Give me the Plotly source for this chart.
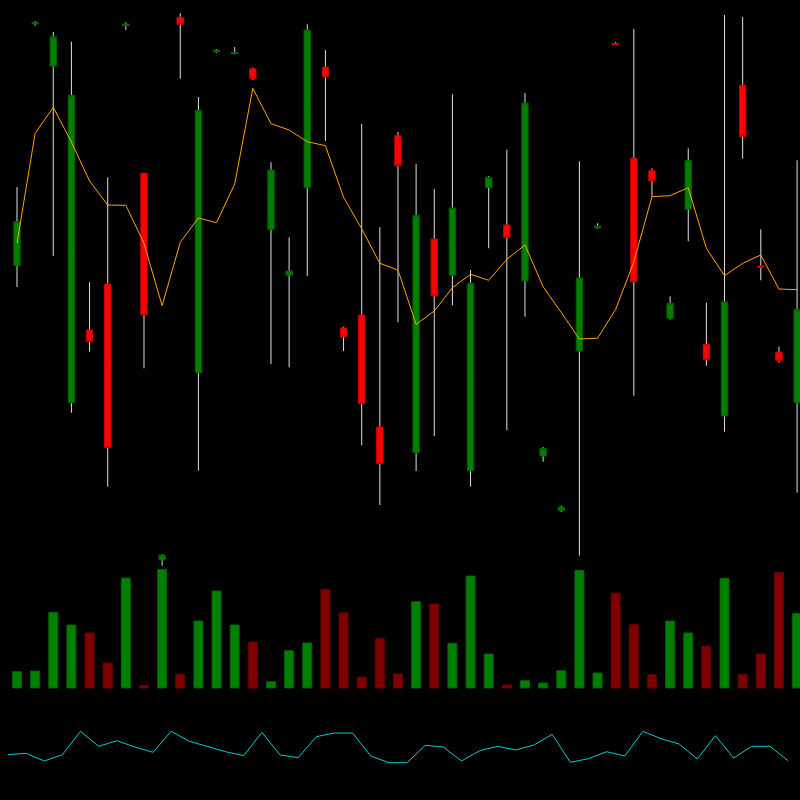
import plotly.graph_objects as go

idx = list(range(44))

open_ = [53.43, 77.62, 73.40, 39.73, 47.00, 51.60, 77.43, 62.67, 24.00, 78.27,
         42.73, 74.80, 74.67, 73.13, 57.07, 52.47, 61.23, 73.27, 47.20, 48.50,
         37.30, 66.43, 34.73, 56.10, 52.47, 32.93, 61.23, 57.50, 51.93, 34.40,
         28.93, 44.90, 57.20, 75.65, 64.17, 62.93, 48.17, 59.07, 45.57, 38.40,
         71.47, 53.40, 44.80, 39.73]
high = [61.30, 77.87, 76.80, 75.83, 51.80, 62.27, 77.77, 62.67, 24.60, 78.67,
        70.30, 75.10, 75.30, 73.23, 63.77, 56.27, 77.57, 75.00, 47.33, 67.60,
        57.27, 66.80, 63.60, 61.10, 70.57, 53.00, 62.40, 65.03, 70.70, 35.30,
        29.43, 63.87, 57.67, 75.80, 77.10, 63.17, 50.37, 65.17, 49.73, 78.50,
        78.30, 57.07, 45.33, 63.97]
low = [51.30, 77.43, 54.40, 38.73, 44.83, 31.33, 77.00, 43.17, 23.43, 72.13,
       32.93, 74.73, 74.57, 72.00, 43.60, 43.27, 52.40, 65.90, 44.90, 35.47,
       29.50, 47.77, 32.90, 36.37, 49.47, 31.33, 55.17, 36.97, 48.33, 33.83,
       28.80, 24.43, 57.13, 75.50, 40.43, 60.33, 48.03, 55.87, 43.43, 36.83,
       64.13, 51.97, 43.73, 30.73]
close = [57.83, 77.70, 76.33, 70.47, 45.83, 35.23, 77.60, 48.50, 24.50, 77.57,
         68.97, 75.00, 74.77, 72.13, 63.00, 52.90, 77.00, 72.30, 46.30, 39.63,
         33.63, 63.43, 58.47, 50.40, 59.20, 51.67, 62.27, 56.27, 69.70, 35.17,
         29.30, 52.20, 57.40, 75.55, 51.83, 61.90, 49.67, 63.97, 44.07, 49.83,
         66.37, 53.25, 43.93, 49.07]

moving_avg = [55.67, 66.67, 69.27, 65.80, 61.90, 59.50, 59.47, 55.67, 49.43, 55.77,
              58.20, 57.73, 61.60, 71.17, 67.63, 67.00, 65.83, 65.43, 60.27, 57.13,
              53.67, 53.00, 47.57, 48.90, 51.23, 52.57, 51.97, 54.07, 55.50, 51.33,
              48.75, 46.10, 46.17, 49.07, 53.80, 60.33, 60.43, 61.23, 55.17, 52.43,
              53.67, 54.50, 51.10, 51.03]

volume = [16300, 17000, 75700, 63000, 55000, 25000, 110000, 2300, 118700, 14000,
          67000, 97000, 63000, 46000, 6300, 37300, 45000, 98700, 75300, 11000,
          49300, 14000, 86300, 84000, 44700, 112000, 34000, 3000, 7300, 5000,
          17300, 117700, 15000, 95000, 63300, 13300, 67000, 55000, 41700, 109700,
          13700, 34000, 115700, 74700]

oscillator = [15.3, 16.7, 9.0, 15.3, 38.7, 23.7, 29.3, 23.0, 17.7, 38.7,
              28.7, 23.7, 18.3, 14.3, 37.7, 15.0, 12.3, 33.3, 37.0, 37.0,
              14.0, 7.3, 7.3, 24.7, 23.0, 9.0, 19.3, 23.7, 20.0, 25.0,
              35.7, 7.7, 11.3, 18.3, 14.0, 38.7, 31.3, 26.0, 11.0, 34.3,
              12.0, 23.7, 23.7, 9.3]

up = [c >= o for o, c in zip(open_, close)]
vol_colors = ['#008000' if u else '#800000' for u in up]
vol_lines = ['#006000' if u else '#600000' for u in up]
mid = [(o + c) / 2 for o, c in zip(open_, close)]
body_hi = [max(o, c) for o, c in zip(open_, close)]
body_lo = [min(o, c) for o, c in zip(open_, close)]
osc_x = [i - 0.5 for i in idx]

fig = go.Figure()

fig.add_trace(go.Bar(
    x=idx, y=volume, width=0.5, yaxis='y2',
    marker=dict(color=vol_colors, line=dict(color=vol_lines, width=1)),
    showlegend=False, hoverinfo='skip'))

fig.add_trace(go.Scatter(
    x=osc_x, y=oscillator, mode='lines', yaxis='y3',
    line=dict(color='#00CED1', width=1), showlegend=False, hoverinfo='skip'))

# wicks
fig.add_trace(go.Candlestick(
    x=idx, open=mid, high=high, low=low, close=mid,
    increasing=dict(line=dict(color='#e0e0e0', width=1), fillcolor='#e0e0e0'),
    decreasing=dict(line=dict(color='#e0e0e0', width=1), fillcolor='#e0e0e0'),
    showlegend=False, hoverinfo='skip'))

# bodies
fig.add_trace(go.Candlestick(
    x=idx, open=open_, high=body_hi, low=body_lo, close=close,
    increasing=dict(line=dict(color='#006000', width=1), fillcolor='#008000'),
    decreasing=dict(line=dict(color='#cc0000', width=1), fillcolor='#FF0000'),
    showlegend=False, hoverinfo='skip'))

fig.add_trace(go.Scatter(
    x=idx, y=moving_avg, mode='lines',
    line=dict(color='#FFA500', width=1), showlegend=False, hoverinfo='skip'))

fig.update_layout(
    width=800, height=800,
    margin=dict(l=0, r=0, t=0, b=0),
    paper_bgcolor='black', plot_bgcolor='black',
    boxgap=0.5, showlegend=False, hovermode=False,
    xaxis=dict(range=[-0.937, 43.16], visible=False, rangeslider=dict(visible=False),
               showgrid=False, zeroline=False),
    yaxis=dict(range=[0, 80], visible=False, showgrid=False, zeroline=False),
    yaxis2=dict(range=[-112000, 688000], overlaying='y', visible=False,
                showgrid=False, zeroline=False),
    yaxis3=dict(range=[-30, 770], overlaying='y', visible=False,
                showgrid=False, zeroline=False),
)

fig.write_html(
    "out.html",
    config={"displayModeBar": False},
    post_script="document.body.style.margin='0';document.body.style.background='black';",
)
